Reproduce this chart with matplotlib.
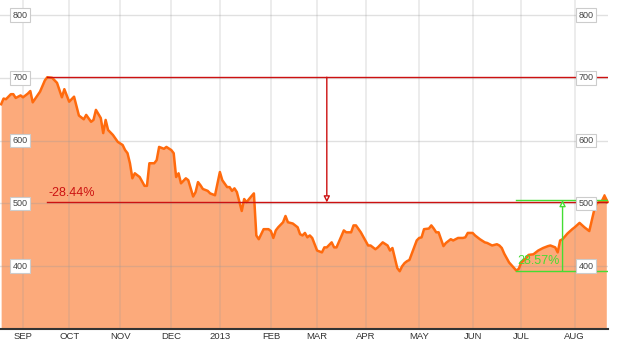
import matplotlib
matplotlib.use("Agg")
import matplotlib.pyplot as plt
from matplotlib.transforms import blended_transform_factory

# trading-day index (0 = Aug 21 2012) and closing price
day = [0, 1, 2, 4, 5, 6, 8, 9, 11, 12, 13, 16, 18, 19, 21, 23, 25, 26, 28, 30,
       32, 34, 35, 37, 38, 39, 41, 42, 43, 44, 46, 48, 50, 51, 52, 53, 54, 55, 57, 59,
       60, 61, 63, 64, 65, 67, 68, 70, 71, 72, 73, 74, 76, 77, 79, 80, 81, 82, 83, 85,
       86, 88, 90, 91, 93, 94, 95, 96, 97, 99, 100, 101, 102, 104, 105, 106, 108, 110, 111, 112,
       113, 114, 116, 117, 118, 120, 122, 123, 124, 125, 126, 127, 128, 130, 132, 133, 134, 136, 137, 138,
       141, 142, 144, 145, 146, 148, 151, 152, 154, 155, 157, 159, 160, 161, 163, 164, 165, 166, 167, 168,
       171, 172, 173, 174, 176, 177, 178, 179, 180, 182, 183, 185, 186, 188, 190, 191, 192, 194, 195, 197,
       199, 200, 202, 204, 205, 206, 207, 209, 212, 213, 214, 216, 217, 219, 221, 223, 225, 226, 228, 229,
       230, 231, 233, 235, 236, 238, 240, 242, 244, 245, 246, 248, 249]
price = [658, 667, 666, 674, 674, 668, 672, 669, 675, 679, 661, 678, 696, 701, 700, 692, 669, 682, 662, 670,
         640, 634, 641, 630, 633, 649, 636, 612, 633, 617, 609, 598, 593, 585, 580, 564, 540, 548, 542, 528,
         528, 564, 564, 569, 590, 587, 590, 585, 580, 542, 548, 532, 540, 537, 511, 518, 534, 529, 523, 520,
         516, 513, 550, 537, 526, 526, 520, 524, 518, 488, 507, 502, 507, 516, 449, 443, 459, 459, 456, 445,
         457, 462, 470, 480, 470, 468, 462, 451, 449, 453, 446, 449, 445, 425, 422, 430, 430, 438, 430, 430,
         457, 454, 454, 465, 465, 454, 433, 433, 427, 430, 438, 433, 425, 429, 397, 392, 400, 405, 408, 410,
         441, 445, 446, 459, 460, 465, 460, 454, 454, 432, 437, 443, 441, 445, 445, 446, 453, 453, 449, 443,
         438, 437, 433, 435, 433, 429, 420, 406, 393, 396, 406, 413, 418, 419, 425, 429, 432, 433, 430, 422,
         441, 443, 452, 459, 462, 469, 462, 456, 489, 500, 502, 504, 502]

month_day = [9, 28, 49, 70, 90, 111, 130, 150, 172, 194, 214, 236]
month_labels = ["SEP", "OCT", "NOV", "DEC", "2013", "FEB", "MAR", "APR", "MAY", "JUN", "JUL", "AUG"]
price_ticks = [400, 500, 600, 700, 800]

# drawdown / rally annotations
peak_day, peak_price = 19, 701
drop_level = 501.6
drop_arrow_day = 134
drop_text = "-28.44%"
low_day, low_price = 212, 393
rise_level = 505.3
rise_arrow_day = 231
rise_text = "28.57%"

LINE = "#ff6a0d"
FILL = "#fcaa7b"
RED = "#cc1111"
GREEN = "#44dd33"
GRID = "#dddddd"

plt.rcParams["font.family"] = ["Liberation Sans", "DejaVu Sans"]

fig = plt.figure(figsize=(6.19, 3.45), dpi=100)
ax = fig.add_axes([0, 16 / 345, 608 / 619, 329 / 345])
ax.set_xlim(-0.47, 249.7)
ax.set_ylim(300, 824)

ax.fill_between(day, price, 300, color=FILL, lw=0, zorder=1)
ax.plot(day, price, color=LINE, lw=1.8, zorder=4, solid_joinstyle="round")
ax.plot(day[-2], price[-2] + 4, marker="^", ms=6, color=LINE, zorder=5)

# grid drawn over the area, faint
for m in month_day:
    ax.axvline(m, color="#999999", alpha=0.22, lw=1.2, zorder=2)
for p in price_ticks:
    ax.axhline(p, color="#999999", alpha=0.3, lw=1, zorder=2)

# peak -> drawdown
ax.plot([peak_day, 249.7], [peak_price, peak_price], color=RED, lw=1, zorder=6)
ax.plot([peak_day, 249.7], [drop_level, drop_level], color=RED, lw=1, zorder=6)
ax.annotate("", xy=(drop_arrow_day, drop_level), xytext=(drop_arrow_day, peak_price),
            arrowprops=dict(arrowstyle="-|>", fc="white", ec=RED, lw=1,
                            mutation_scale=9, shrinkA=0, shrinkB=0), zorder=7)
ax.text(peak_day + 0.5, drop_level + 5, drop_text, color=RED, fontsize=9,
        ha="left", va="bottom", zorder=7)

# low -> rally
ax.plot([low_day, 249.7], [low_price, low_price], color=GREEN, lw=1, zorder=6)
ax.plot([low_day, 249.7], [rise_level, rise_level], color=GREEN, lw=1, zorder=6)
ax.annotate("", xy=(rise_arrow_day, rise_level), xytext=(rise_arrow_day, low_price),
            arrowprops=dict(arrowstyle="-|>", fc="white", ec=GREEN, lw=1,
                            mutation_scale=9, shrinkA=0, shrinkB=0), zorder=7)
ax.text(low_day + 0.5, low_price + 5, rise_text, color=GREEN, fontsize=9,
        ha="left", va="bottom", zorder=7)

# boxed price labels on both sides
trans = blended_transform_factory(ax.transAxes, ax.transData)
box = dict(boxstyle="square,pad=0.25", fc="white", ec="#cccccc", lw=0.8)
for p in price_ticks:
    for xa in (20 / 608, 586 / 608):
        ax.text(xa, p, str(p), transform=trans, fontsize=6.5, color="#444444",
                ha="center", va="center", bbox=box, zorder=8)

ax.set_yticks([])
ax.set_xticks(month_day)
ax.set_xticklabels(month_labels, fontsize=6.8, color="#333333")
ax.tick_params(axis="x", length=0, pad=2.5)
for s in ("top", "left", "right"):
    ax.spines[s].set_visible(False)
ax.spines["bottom"].set_color("#333333")
ax.spines["bottom"].set_linewidth(1.5)
ax.set_facecolor("white")

fig.savefig("out.png", dpi=100)
